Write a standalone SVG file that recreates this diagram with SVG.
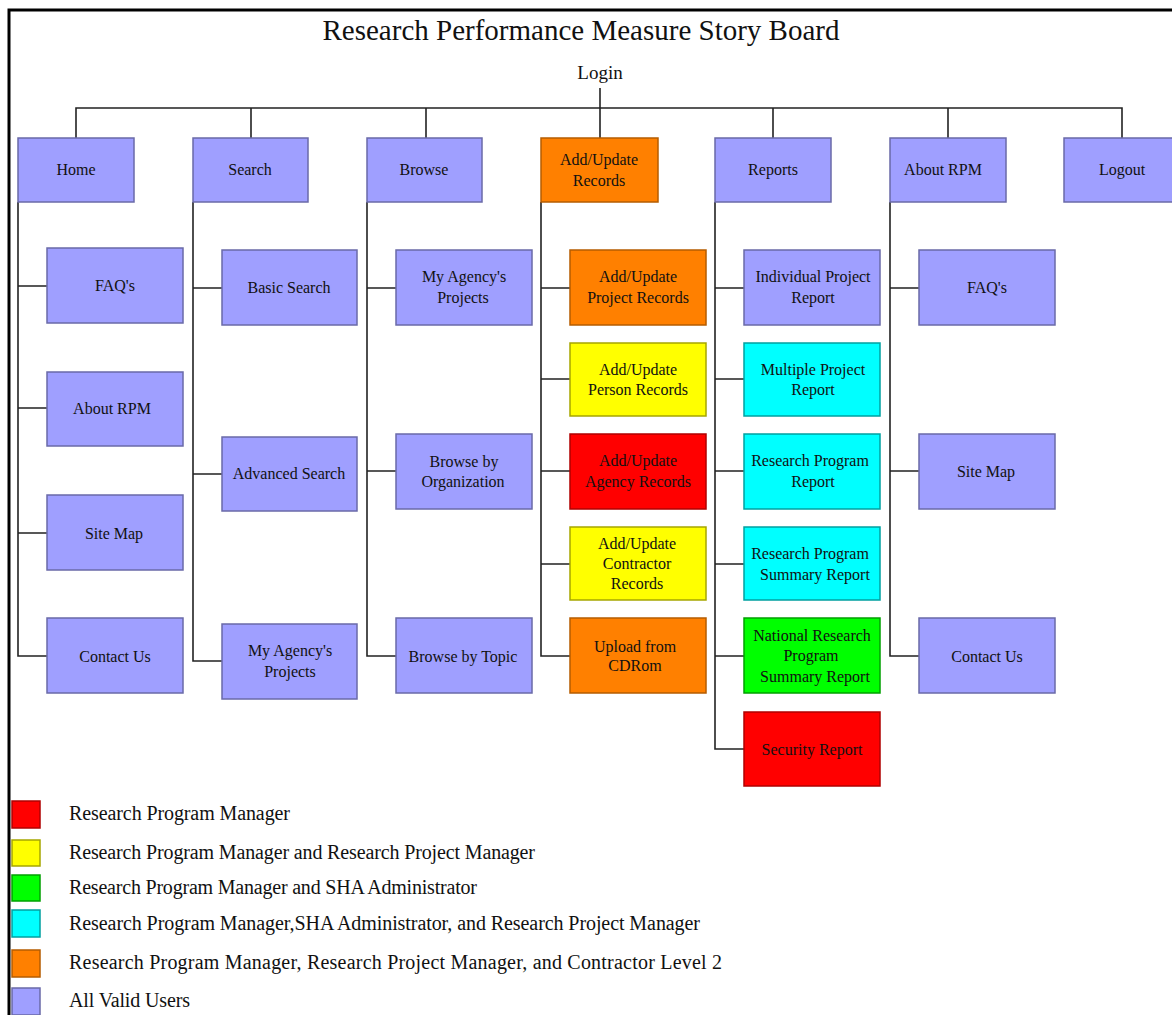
<svg xmlns="http://www.w3.org/2000/svg" width="1172" height="1015" viewBox="0 0 1172 1015">
  <style>
    text { font-family: "Liberation Serif", "Times New Roman", serif; fill: #111; }
    .title { font-size: 29px; text-anchor: middle; }
    .login { font-size: 19px; text-anchor: middle; }
    .lbl { font-size: 16px; text-anchor: middle; }
    .leg { font-size: 20px; }
    .wire { fill: none; stroke: #222; stroke-width: 1.6; }
    .frame { fill: none; stroke: #000; stroke-width: 3; }
    .box { stroke-width: 1.5; }
    .all { fill: #9f9fff; stroke: #6a6aa8; }
    .org { fill: #ff8000; stroke: #b55c00; }
    .yel { fill: #ffff00; stroke: #a6a600; }
    .red { fill: #ff0000; stroke: #b00000; }
    .cyn { fill: #00ffff; stroke: #00a0a0; }
    .grn { fill: #00ff00; stroke: #00a000; }
  </style>

  <!-- page frame -->
  <path class="frame" d="M9,1015 V10 H1172"/>

  <text class="title" x="581" y="40">Research Performance Measure Story Board</text>
  <text class="login" x="600" y="79">Login</text>

  <!-- connectors -->
  <g id="connectors" class="wire">
    <path d="M600,88 V108"/>
    <path d="M76,138 V108 H1122 V138"/>
    <path d="M251,108 V138 M426,108 V138 M600,108 V138 M773,108 V138 M948,108 V138"/>
    <!-- Home -->
    <path d="M18,202 V656 H47 M18,286 H47 M18,408 H47 M18,533 H47"/>
    <!-- Search -->
    <path d="M193,202 V661 H222 M193,288 H222 M193,474 H222"/>
    <!-- Browse -->
    <path d="M367,202 V656 H396 M367,288 H396 M367,471 H396"/>
    <!-- Add/Update Records -->
    <path d="M541,202 V656 H570 M541,288 H570 M541,379 H570 M541,471 H570 M541,564 H570"/>
    <!-- Reports -->
    <path d="M715,202 V749 H744 M715,288 H744 M715,379 H744 M715,471 H744 M715,564 H744 M715,656 H744"/>
    <!-- About RPM -->
    <path d="M890,202 V656 H919 M890,288 H919 M890,471 H919"/>
  </g>

  <!-- top level -->
  <g id="home"><rect class="box all" x="18" y="138" width="116" height="64"/><text class="lbl" x="76" y="175">Home</text></g>
  <g id="search"><rect class="box all" x="193" y="138" width="115" height="64"/><text class="lbl" x="250" y="175">Search</text></g>
  <g id="browse"><rect class="box all" x="367" y="138" width="115" height="64"/><text class="lbl" x="424" y="175">Browse</text></g>
  <g id="add-update"><rect class="box org" x="541" y="138" width="117" height="64"/><text class="lbl" x="599" y="165">Add/Update</text><text class="lbl" x="599" y="186">Records</text></g>
  <g id="reports"><rect class="box all" x="715" y="138" width="116" height="64"/><text class="lbl" x="773" y="175">Reports</text></g>
  <g id="about-rpm"><rect class="box all" x="890" y="138" width="116" height="64"/><text class="lbl" x="943" y="175">About RPM</text></g>
  <g id="logout"><rect class="box all" x="1064" y="138" width="116" height="64"/><text class="lbl" x="1122" y="175">Logout</text></g>

  <!-- Home children -->
  <g id="home-faq"><rect class="box all" x="47" y="248" width="136" height="75"/><text class="lbl" x="115" y="291">FAQ's</text></g>
  <g id="home-about"><rect class="box all" x="47" y="372" width="136" height="74"/><text class="lbl" x="112" y="414">About RPM</text></g>
  <g id="home-sitemap"><rect class="box all" x="47" y="495" width="136" height="75"/><text class="lbl" x="114" y="539">Site Map</text></g>
  <g id="home-contact"><rect class="box all" x="47" y="618" width="136" height="75"/><text class="lbl" x="115" y="662">Contact Us</text></g>

  <!-- Search children -->
  <g id="basic-search"><rect class="box all" x="222" y="250" width="135" height="75"/><text class="lbl" x="289" y="293">Basic Search</text></g>
  <g id="advanced-search"><rect class="box all" x="222" y="437" width="135" height="74"/><text class="lbl" x="289" y="479">Advanced Search</text></g>
  <g id="search-agency"><rect class="box all" x="222" y="624" width="135" height="75"/><text class="lbl" x="290" y="656">My Agency's</text><text class="lbl" x="290" y="677">Projects</text></g>

  <!-- Browse children -->
  <g id="browse-agency"><rect class="box all" x="396" y="250" width="136" height="75"/><text class="lbl" x="464" y="282">My Agency's</text><text class="lbl" x="463" y="303">Projects</text></g>
  <g id="browse-org"><rect class="box all" x="396" y="434" width="136" height="75"/><text class="lbl" x="464" y="467">Browse by</text><text class="lbl" x="463" y="487">Organization</text></g>
  <g id="browse-topic"><rect class="box all" x="396" y="618" width="136" height="75"/><text class="lbl" x="463" y="662">Browse by Topic</text></g>

  <!-- Add/Update children -->
  <g id="upd-project"><rect class="box org" x="570" y="250" width="136" height="75"/><text class="lbl" x="638" y="282">Add/Update</text><text class="lbl" x="638" y="303">Project Records</text></g>
  <g id="upd-person"><rect class="box yel" x="570" y="343" width="136" height="73"/><text class="lbl" x="638" y="375">Add/Update</text><text class="lbl" x="638" y="395">Person Records</text></g>
  <g id="upd-agency"><rect class="box red" x="570" y="434" width="136" height="75"/><text class="lbl" x="638" y="466">Add/Update</text><text class="lbl" x="638" y="487">Agency Records</text></g>
  <g id="upd-contractor"><rect class="box yel" x="570" y="527" width="136" height="73"/><text class="lbl" x="637" y="549">Add/Update</text><text class="lbl" x="637" y="569">Contractor</text><text class="lbl" x="637" y="589">Records</text></g>
  <g id="upload-cd"><rect class="box org" x="570" y="618" width="136" height="75"/><text class="lbl" x="635" y="652">Upload from</text><text class="lbl" x="635" y="671">CDRom</text></g>

  <!-- Reports children -->
  <g id="rep-individual"><rect class="box all" x="744" y="250" width="136" height="75"/><text class="lbl" x="813" y="282">Individual Project</text><text class="lbl" x="813" y="303">Report</text></g>
  <g id="rep-multiple"><rect class="box cyn" x="744" y="343" width="136" height="73"/><text class="lbl" x="813" y="375">Multiple Project</text><text class="lbl" x="813" y="395">Report</text></g>
  <g id="rep-program"><rect class="box cyn" x="744" y="434" width="136" height="75"/><text class="lbl" x="810" y="466">Research Program</text><text class="lbl" x="813" y="487">Report</text></g>
  <g id="rep-summary"><rect class="box cyn" x="744" y="527" width="136" height="73"/><text class="lbl" x="810" y="559">Research Program</text><text class="lbl" x="815" y="580">Summary Report</text></g>
  <g id="rep-national"><rect class="box grn" x="744" y="618" width="136" height="75"/><text class="lbl" x="812" y="641">National Research</text><text class="lbl" x="811" y="661">Program</text><text class="lbl" x="815" y="682">Summary Report</text></g>
  <g id="rep-security"><rect class="box red" x="744" y="712" width="136" height="74"/><text class="lbl" x="812" y="755">Security Report</text></g>

  <!-- About RPM children -->
  <g id="about-faq"><rect class="box all" x="919" y="250" width="136" height="75"/><text class="lbl" x="987" y="293">FAQ's</text></g>
  <g id="about-sitemap"><rect class="box all" x="919" y="434" width="136" height="75"/><text class="lbl" x="986" y="477">Site Map</text></g>
  <g id="about-contact"><rect class="box all" x="919" y="618" width="136" height="75"/><text class="lbl" x="987" y="662">Contact Us</text></g>

  <!-- legend -->
  <g id="legend">
    <rect class="box red" x="12" y="801" width="28" height="27"/>
    <text class="leg" x="69" y="820" textLength="221">Research Program Manager</text>
    <rect class="box yel" x="12" y="840" width="28" height="26"/>
    <text class="leg" x="69" y="859" textLength="466">Research Program Manager and Research Project Manager</text>
    <rect class="box grn" x="12" y="875" width="28" height="26"/>
    <text class="leg" x="69" y="894" textLength="408">Research Program Manager and SHA Administrator</text>
    <rect class="box cyn" x="12" y="910" width="28" height="27"/>
    <text class="leg" x="69" y="930" textLength="631">Research Program Manager,SHA Administrator, and Research Project Manager</text>
    <rect class="box org" x="12" y="950" width="28" height="27"/>
    <text class="leg" x="69" y="969" textLength="653">Research Program Manager, Research Project Manager, and Contractor Level 2</text>
    <rect class="box all" x="12" y="988" width="28" height="27"/>
    <text class="leg" x="69" y="1007" textLength="121">All Valid Users</text>
  </g>
</svg>
